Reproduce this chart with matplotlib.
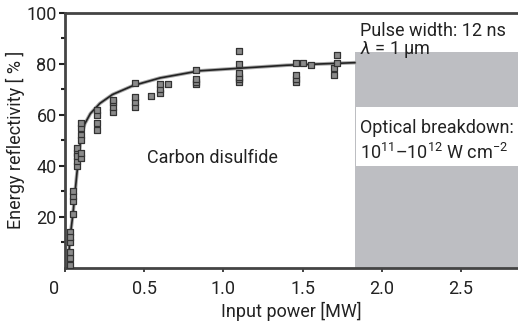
import matplotlib
matplotlib.use("Agg")
import matplotlib.pyplot as plt
from matplotlib import font_manager
from matplotlib.patches import Rectangle
import matplotlib.transforms as mtransforms

names = {f.name for f in font_manager.fontManager.ttflist}
fam = "Roboto" if "Roboto" in names else "Liberation Sans"
plt.rcParams['font.family'] = [fam, 'DejaVu Sans']
plt.rcParams['mathtext.fontset'] = 'custom'
plt.rcParams['mathtext.rm'] = fam
plt.rcParams['mathtext.it'] = fam + ':italic'

# measured points
power_mw = [0.03, 0.03, 0.03, 0.03, 0.03, 0.03,
            0.05, 0.05, 0.05, 0.05,
            0.075, 0.075, 0.075, 0.075, 0.075,
            0.1, 0.1, 0.1, 0.1, 0.1, 0.1,
            0.2, 0.2, 0.2, 0.2,
            0.3, 0.3, 0.3, 0.3,
            0.44, 0.44, 0.44, 0.44,
            0.54,
            0.6, 0.6, 0.6,
            0.65,
            0.83, 0.83, 0.83, 0.83,
            1.1, 1.1, 1.1, 1.1, 1.1, 1.1,
            1.46, 1.46, 1.46, 1.46,
            1.5, 1.55,
            1.7, 1.7, 1.72, 1.72]
reflectivity = [1, 4, 6, 10, 14, 12,
                21, 26, 28, 30,
                40, 42, 45, 47, 44,
                43, 45, 52, 55, 57, 50,
                54, 57, 60, 62,
                61, 63, 65, 66,
                63, 65, 67, 72.5,
                67.5,
                68.5, 70, 72,
                72,
                72, 73, 74, 77.5,
                73, 74, 75, 76.5, 80, 85,
                73, 74, 75.5, 80.5,
                80.5, 79.5,
                75.5, 78.5, 80.3, 83.5]

# fitted curve
fit_x = [0.02, 0.03, 0.05, 0.075, 0.1, 0.125, 0.16, 0.22, 0.3, 0.43, 0.6, 0.85, 1.1, 1.4, 1.83]
fit_y = [0, 11, 21, 37, 51, 56.5, 60.5, 64.5, 68, 71.5, 74.5, 77.3, 78.3, 79.5, 80.5]

x_ticks = [0, 0.5, 1.0, 1.5, 2.0, 2.5]
x_tick_labels = ["0", "0.5", "1.0", "1.5", "2.0", "2.5"]
y_ticks = [20, 40, 60, 80, 100]
y_tick_labels = ["20", "40", "60", "80", "100"]

FS = 13
fig = plt.figure(figsize=(5.18, 3.29), dpi=100)
ax = fig.add_axes([0.1255, 0.1863, 0.8745, 0.7742])
ax.set_xlim(0, 2.86)
ax.set_ylim(0, 100)

# grey breakdown region
ax.add_patch(Rectangle((1.833, 0), 2.86 - 1.833, 84.7, facecolor="#bdbec2", edgecolor="none", zorder=1))
ax.add_patch(Rectangle((1.84, 40), 2.86 - 1.84, 23, facecolor="white", edgecolor="none", zorder=1.5))

ax.plot(fit_x, fit_y, color="#aaaaaa", lw=2.6, zorder=2, solid_capstyle="round")
ax.plot(fit_x, fit_y, color="#222222", lw=1.2, zorder=3)
ax.scatter(power_mw, reflectivity, marker="s", s=16, facecolor="#8a8a8a", edgecolor="#333333",
           linewidths=0.9, zorder=4)

for s in ["left", "top", "bottom"]:
    ax.spines[s].set_linewidth(2.0)
    ax.spines[s].set_color("#444444")
ax.spines["right"].set_visible(False)

ax.set_xticks(x_ticks)
ax.set_xticklabels(x_tick_labels)
ax.set_yticks(y_ticks)
ax.set_yticklabels(y_tick_labels)
ax.set_yticks([10, 30, 50, 70, 90], minor=True)
ax.tick_params(axis="both", which="both", labelsize=FS, colors="#222222", direction="out")
ax.tick_params(axis="x", which="major", length=3, width=1.2, pad=6)
ax.tick_params(axis="y", which="major", length=4, width=1.5, pad=2)
ax.tick_params(axis="y", which="minor", length=3, width=1.5)

lbl0 = ax.get_xticklabels()[0]
lbl0.set_transform(lbl0.get_transform() + mtransforms.ScaledTranslation(-11 / 100, 0, fig.dpi_scale_trans))

ax.set_xlabel("Input power [MW]", fontsize=FS, color="#222222", labelpad=3)
ax.set_ylabel("Energy reflectivity [ % ]", fontsize=FS, color="#222222", labelpad=1)

ax.text(1.86, 93, "Pulse width: 12 ns", fontsize=FS, color="#222222", va="center", ha="left", zorder=5)
ax.text(1.86, 85.5, r"$\lambda$ = 1 μm", fontsize=FS, color="#222222", va="center", ha="left", zorder=5)
ax.text(1.86, 55, "Optical breakdown:", fontsize=FS, color="#222222", va="center", ha="left", zorder=5)
ax.text(1.86, 45, r"10$^{11}$–10$^{12}$ W cm$^{-2}$", fontsize=FS, color="#222222",
        va="center", ha="left", zorder=5)
ax.text(0.93, 43, "Carbon disulfide", fontsize=FS, color="#222222", va="center", ha="center", zorder=5)

fig.savefig("out.png", dpi=100)
